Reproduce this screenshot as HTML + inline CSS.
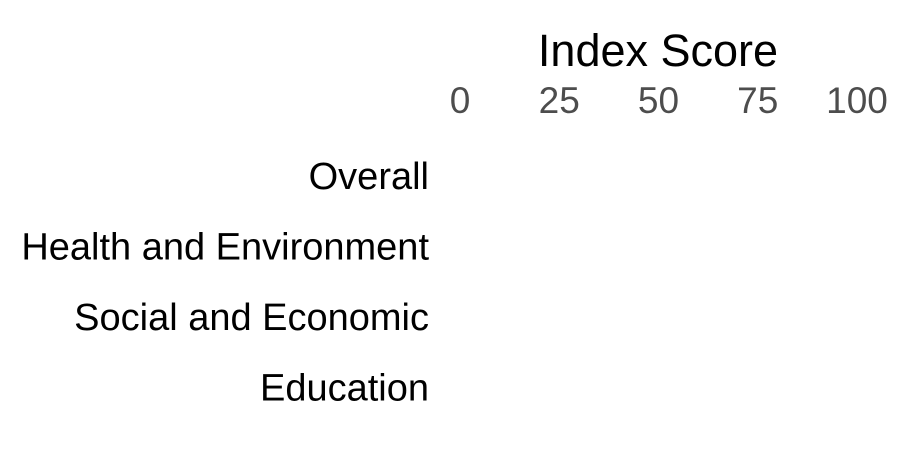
<!DOCTYPE html>
<html><head><meta charset="utf-8"><style>
html,body{margin:0;padding:0;background:#fff}
svg{display:block;font-family:"Liberation Sans",Arial,sans-serif}
</style></head><body>
<svg id="chart" width="900" height="450">
<text x="658" y="66" text-anchor="middle" font-size="45" fill="#000">Index Score</text>
<g id="ticks"></g>
<g id="cats"></g>
<g id="bars"></g>
</svg>
<script>
const categories = ["Overall","Health and Environment","Social and Economic","Education"];
const values = [0,0,0,0];
const tickValues = [0,25,50,75,100];
const tickLabels = ["0","25","50","75","100"];
const NS="http://www.w3.org/2000/svg";
function xScale(v){return 460 + v*3.97;}
function yScale(i){return 176 + i*70.5;}
const tg=document.getElementById('ticks');
tickValues.forEach((v,i)=>{
  const t=document.createElementNS(NS,'text');
  
  
  t.setAttribute('x',xScale(v));t.setAttribute('y',113);
  t.setAttribute('text-anchor','middle');t.setAttribute('font-size','37');
  t.setAttribute('fill','#4d4d4d');t.textContent=tickLabels[i];tg.appendChild(t);
});
const cg=document.getElementById('cats'),bg=document.getElementById('bars');
categories.forEach((c,i)=>{
  const t=document.createElementNS(NS,'text');
  
  
  t.setAttribute('x',429);t.setAttribute('y',yScale(i)+13);
  t.setAttribute('text-anchor','end');t.setAttribute('font-size','38');
  t.setAttribute('fill','#000');t.textContent=c;cg.appendChild(t);
  const r=document.createElementNS(NS,'rect');
  
  
  r.setAttribute('x',xScale(0));r.setAttribute('y',yScale(i)-25);
  r.setAttribute('width',Math.max(0,xScale(values[i])-xScale(0)));r.setAttribute('height',50);
  r.setAttribute('fill','#4472c4');bg.appendChild(r);
});
</script>
</body></html>
